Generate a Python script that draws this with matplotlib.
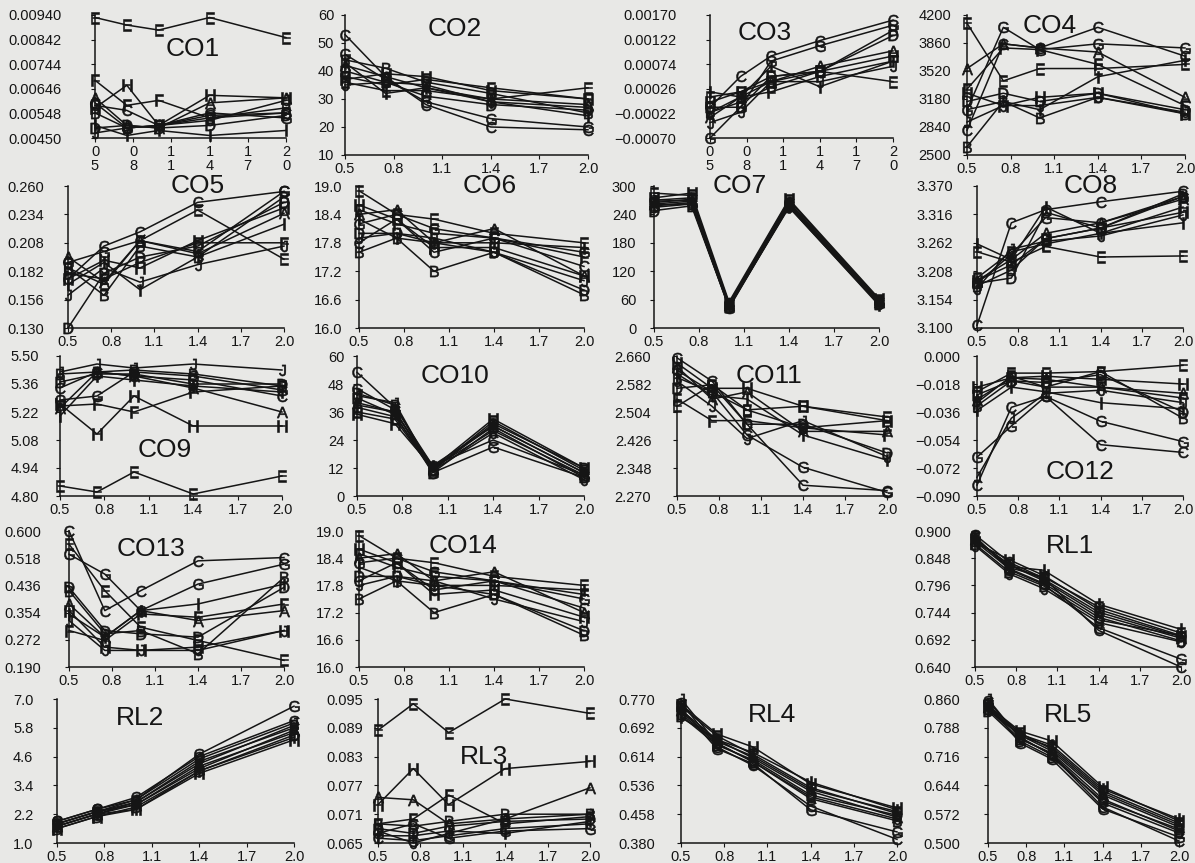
import matplotlib
matplotlib.use("Agg")
import matplotlib.pyplot as plt

plt.rcParams["font.family"] = ["Liberation Sans", "DejaVu Sans"]
plt.rcParams["mathtext.fontset"] = "custom"
plt.rcParams["mathtext.rm"] = "Liberation Sans"

# --- dati -------------------------------------------------------------------
X = [0.5, 0.75, 1.0, 1.4, 2.0]
LETTERS = list("ABCDEFGHIJ")
XT = [0.5, 0.8, 1.1, 1.4, 1.7, 2.0]
XT_LAB = ["0.5", "0.8", "1.1", "1.4", "1.7", "2.0"]
XT_LAB_SPLIT = ["0\n5", "0\n8", "1\n1", "1\n4", "1\n7", "2\n0"]

# una riga per serie, ordine A..J
CO1 = [[0.0061, 0.0050, 0.0049, 0.0059, 0.0061], [0.0055, 0.0049, 0.0050, 0.0053, 0.0057],
       [0.0058, 0.0056, 0.0050, 0.0054, 0.0055], [0.0049, 0.0050, 0.0049, 0.0050, 0.0054],
       [0.0093, 0.0090, 0.0088, 0.0093, 0.0085], [0.0068, 0.0058, 0.0060, 0.0053, 0.0055],
       [0.0059, 0.0049, 0.0050, 0.0055, 0.0053], [0.0057, 0.0066, 0.0050, 0.0062, 0.0061],
       [0.0050, 0.0046, 0.0048, 0.0046, 0.0048], [0.0047, 0.0049, 0.0050, 0.0052, 0.0060]]
CO2 = [[42, 38, 34, 30, 28], [44, 41, 36, 32, 25], [53, 38, 28, 20, 19], [40, 36, 31, 28, 26],
       [36, 33, 33, 30, 34], [38, 35, 37, 34, 30], [46, 37, 29, 23, 20], [37, 39, 38, 33, 30],
       [43, 32, 34, 29, 24], [35, 36, 35, 29, 27]]
CO3 = [[-0.0003, 0.0001, 0.0004, 0.0007, 0.0010], [-0.0002, 0.0000, 0.0003, 0.0006, 0.0014],
       [-0.0001, 0.0005, 0.0009, 0.0012, 0.0016], [-0.0001, -0.0001, 0.0005, 0.0006, 0.0013],
       [0.0001, 0.0002, 0.0005, 0.0006, 0.0004], [-0.0002, 0.0001, 0.0002, 0.0005, 0.0008],
       [-0.0007, -0.0001, 0.0008, 0.0011, 0.0015], [0.0000, 0.0002, 0.0004, 0.0006, 0.0009],
       [0.0002, 0.0001, 0.0007, 0.0003, 0.0008], [-0.0004, -0.0002, 0.0004, 0.0004, 0.0007]]
CO4 = [[3550, 3850, 3800, 3750, 3200], [2600, 3150, 2950, 3200, 3000], [2800, 3850, 3800, 4050, 3700],
       [3150, 3250, 3150, 3250, 3050], [4100, 3400, 3550, 3550, 3600], [3300, 3800, 3780, 3600, 3100],
       [3050, 4050, 3780, 3850, 3800], [3250, 3100, 3200, 3250, 3000], [3050, 3150, 3050, 3450, 3650],
       [2900, 3100, 3100, 3200, 3020]]
CO5 = [[0.195, 0.172, 0.210, 0.198, 0.235], [0.185, 0.160, 0.205, 0.195, 0.250],
       [0.175, 0.205, 0.218, 0.245, 0.255], [0.130, 0.180, 0.195, 0.205, 0.245],
       [0.185, 0.170, 0.210, 0.238, 0.193], [0.180, 0.175, 0.190, 0.208, 0.208],
       [0.190, 0.200, 0.210, 0.200, 0.255], [0.175, 0.192, 0.185, 0.210, 0.240],
       [0.170, 0.190, 0.165, 0.195, 0.225], [0.160, 0.185, 0.172, 0.188, 0.205]]
CO6 = [[18.4, 18.5, 17.8, 18.1, 17.1], [17.6, 17.9, 17.2, 17.6, 16.7], [17.8, 18.3, 17.6, 17.9, 17.3],
       [18.0, 18.0, 17.8, 17.6, 16.8], [18.9, 18.4, 18.3, 18.0, 17.8], [18.5, 18.2, 18.0, 17.9, 17.5],
       [18.2, 18.4, 18.1, 17.9, 17.6], [18.6, 18.3, 17.7, 17.7, 17.1], [18.3, 17.9, 17.8, 17.8, 17.7],
       [17.9, 18.0, 17.9, 17.6, 17.0]]
CO7 = [[262, 268, 48, 262, 55], [255, 262, 45, 258, 52], [270, 275, 52, 266, 58], [248, 258, 44, 255, 50],
       [285, 280, 50, 270, 60], [265, 272, 47, 262, 56], [258, 265, 42, 259, 53], [275, 285, 55, 272, 62],
       [260, 262, 46, 256, 48], [268, 270, 50, 264, 57]]
CO8 = [[3.190, 3.230, 3.280, 3.300, 3.345], [3.180, 3.210, 3.270, 3.290, 3.355],
       [3.105, 3.300, 3.325, 3.340, 3.360], [3.185, 3.195, 3.320, 3.290, 3.350],
       [3.245, 3.225, 3.255, 3.235, 3.237], [3.195, 3.245, 3.260, 3.280, 3.330],
       [3.185, 3.240, 3.310, 3.300, 3.350], [3.190, 3.220, 3.270, 3.290, 3.320],
       [3.260, 3.230, 3.330, 3.280, 3.300], [3.175, 3.250, 3.265, 3.275, 3.315]]
CO9 = [[5.24, 5.42, 5.40, 5.34, 5.22], [5.41, 5.42, 5.43, 5.41, 5.35], [5.34, 5.42, 5.40, 5.38, 5.30],
       [5.37, 5.41, 5.41, 5.36, 5.36], [4.85, 4.82, 4.92, 4.81, 4.90], [5.25, 5.26, 5.22, 5.32, 5.35],
       [5.28, 5.30, 5.42, 5.40, 5.33], [5.26, 5.11, 5.30, 5.15, 5.15], [5.20, 5.40, 5.38, 5.35, 5.32],
       [5.42, 5.46, 5.44, 5.46, 5.43]]
CO10 = [[40, 36, 12, 30, 10], [44, 39, 11, 31, 12], [53, 38, 13, 24, 9], [42, 35, 10, 29, 8],
        [36, 33, 11, 32, 11], [38, 34, 12, 28, 9], [46, 37, 10, 21, 8], [35, 31, 12, 33, 12],
        [39, 36, 13, 30, 10], [43, 40, 11, 27, 7]]
CO11 = [[2.630, 2.540, 2.560, 2.450, 2.450], [2.600, 2.560, 2.510, 2.460, 2.480],
        [2.655, 2.590, 2.470, 2.300, 2.285], [2.570, 2.580, 2.470, 2.470, 2.390],
        [2.520, 2.580, 2.510, 2.520, 2.490], [2.540, 2.480, 2.480, 2.460, 2.440],
        [2.620, 2.560, 2.440, 2.350, 2.280], [2.640, 2.570, 2.570, 2.520, 2.480],
        [2.610, 2.550, 2.540, 2.440, 2.370], [2.590, 2.520, 2.430, 2.480, 2.380]]
CO12 = [[-0.028, -0.014, -0.015, -0.020, -0.024], [-0.032, -0.016, -0.020, -0.010, -0.040],
        [-0.083, -0.033, -0.026, -0.057, -0.062], [-0.025, -0.016, -0.017, -0.012, -0.036],
        [-0.023, -0.011, -0.011, -0.010, -0.006], [-0.030, -0.013, -0.020, -0.020, -0.027],
        [-0.065, -0.045, -0.026, -0.042, -0.055], [-0.020, -0.014, -0.013, -0.015, -0.018],
        [-0.035, -0.020, -0.023, -0.030, -0.034], [-0.078, -0.040, -0.024, -0.022, -0.030]]
CO13 = [[0.380, 0.280, 0.360, 0.330, 0.360], [0.420, 0.290, 0.300, 0.230, 0.460],
        [0.600, 0.360, 0.420, 0.510, 0.520], [0.430, 0.300, 0.290, 0.280, 0.430],
        [0.560, 0.420, 0.310, 0.270, 0.210], [0.300, 0.270, 0.350, 0.340, 0.380],
        [0.530, 0.470, 0.360, 0.440, 0.500], [0.360, 0.250, 0.240, 0.250, 0.300],
        [0.350, 0.280, 0.360, 0.380, 0.440], [0.330, 0.240, 0.240, 0.240, 0.300]]
CO14 = [[18.4, 18.5, 17.9, 18.1, 17.2], [17.5, 17.9, 17.2, 17.6, 16.7], [17.9, 18.3, 17.7, 17.9, 17.3],
        [18.0, 18.0, 17.8, 17.6, 16.8], [18.9, 18.4, 18.3, 18.0, 17.8], [18.5, 18.2, 18.0, 17.9, 17.6],
        [18.3, 18.4, 18.1, 17.9, 17.5], [18.6, 18.3, 17.6, 17.7, 17.1], [18.2, 17.9, 17.8, 17.8, 17.7],
        [17.8, 18.0, 17.9, 17.5, 17.0]]
RL1 = [[0.885, 0.835, 0.805, 0.740, 0.695], [0.880, 0.828, 0.800, 0.735, 0.690],
       [0.893, 0.840, 0.810, 0.710, 0.640], [0.875, 0.822, 0.795, 0.730, 0.700],
       [0.887, 0.830, 0.812, 0.755, 0.705], [0.882, 0.836, 0.808, 0.745, 0.698],
       [0.890, 0.826, 0.798, 0.715, 0.655], [0.878, 0.845, 0.815, 0.750, 0.700],
       [0.884, 0.832, 0.825, 0.760, 0.712], [0.872, 0.818, 0.790, 0.725, 0.688]]
RL2 = [[1.7, 2.2, 2.6, 4.1, 5.7], [1.8, 2.3, 2.7, 4.3, 5.9], [1.9, 2.4, 2.9, 4.6, 6.1],
       [1.6, 2.1, 2.5, 4.0, 5.5], [1.7, 2.2, 2.7, 4.4, 5.8], [1.8, 2.3, 2.6, 4.2, 5.6],
       [1.9, 2.4, 2.8, 4.7, 6.7], [1.6, 2.1, 2.4, 3.9, 5.3], [1.7, 2.2, 2.4, 4.0, 5.4],
       [1.8, 2.3, 2.8, 4.5, 6.0]]
RL3 = [[0.0745, 0.0740, 0.0690, 0.0700, 0.0765], [0.0690, 0.0685, 0.0695, 0.0710, 0.0710],
       [0.0660, 0.0655, 0.0665, 0.0680, 0.0690], [0.0680, 0.0670, 0.0685, 0.0695, 0.0700],
       [0.0885, 0.0940, 0.0880, 0.0950, 0.0920], [0.0690, 0.0700, 0.0750, 0.0690, 0.0705],
       [0.0670, 0.0690, 0.0660, 0.0675, 0.0680], [0.0730, 0.0805, 0.0730, 0.0805, 0.0820],
       [0.0665, 0.0665, 0.0675, 0.0670, 0.0695], [0.0675, 0.0650, 0.0670, 0.0700, 0.0710]]
RL4 = [[0.740, 0.660, 0.610, 0.520, 0.450], [0.730, 0.650, 0.600, 0.500, 0.440],
       [0.760, 0.640, 0.590, 0.480, 0.390], [0.725, 0.645, 0.605, 0.510, 0.455],
       [0.750, 0.670, 0.620, 0.530, 0.460], [0.735, 0.655, 0.615, 0.525, 0.465],
       [0.745, 0.635, 0.595, 0.470, 0.410], [0.755, 0.675, 0.640, 0.540, 0.475],
       [0.720, 0.660, 0.625, 0.545, 0.470], [0.770, 0.650, 0.600, 0.505, 0.445]]
RL5 = [[0.840, 0.770, 0.730, 0.620, 0.540], [0.835, 0.760, 0.725, 0.610, 0.530],
       [0.855, 0.765, 0.720, 0.590, 0.505], [0.830, 0.755, 0.715, 0.605, 0.535],
       [0.845, 0.775, 0.735, 0.625, 0.545], [0.838, 0.768, 0.740, 0.630, 0.550],
       [0.850, 0.750, 0.710, 0.585, 0.515], [0.843, 0.780, 0.755, 0.640, 0.555],
       [0.832, 0.772, 0.745, 0.635, 0.560], [0.860, 0.762, 0.722, 0.600, 0.525]]

YT = {
    "CO1": [0.0045, 0.00548, 0.00646, 0.00744, 0.00842, 0.0094],
    "CO2": [10, 20, 30, 40, 50, 60],
    "CO3": [-0.0007, -0.00022, 0.00026, 0.00074, 0.00122, 0.0017],
    "CO4": [2500, 2840, 3180, 3520, 3860, 4200],
    "CO5": [0.130, 0.156, 0.182, 0.208, 0.234, 0.260],
    "CO6": [16.0, 16.6, 17.2, 17.8, 18.4, 19.0],
    "CO7": [0, 60, 120, 180, 240, 300],
    "CO8": [3.100, 3.154, 3.208, 3.262, 3.316, 3.370],
    "CO9": [4.80, 4.94, 5.08, 5.22, 5.36, 5.50],
    "CO10": [0, 12, 24, 36, 48, 60],
    "CO11": [2.270, 2.348, 2.426, 2.504, 2.582, 2.660],
    "CO12": [-0.090, -0.072, -0.054, -0.036, -0.018, 0.000],
    "CO13": [0.190, 0.272, 0.354, 0.436, 0.518, 0.600],
    "CO14": [16.0, 16.6, 17.2, 17.8, 18.4, 19.0],
    "RL1": [0.640, 0.692, 0.744, 0.796, 0.848, 0.900],
    "RL2": [1.0, 2.2, 3.4, 4.6, 5.8, 7.0],
    "RL3": [0.065, 0.071, 0.077, 0.083, 0.089, 0.095],
    "RL4": [0.380, 0.458, 0.536, 0.614, 0.692, 0.770],
    "RL5": [0.500, 0.572, 0.644, 0.716, 0.788, 0.860],
}

# --- layout (pixel) ---------------------------------------------------------
W, H = 1195, 863
# alto, basso per riga; la riga 0 ha due altezze (assi spezzati piu' corti)
ROWS = [(15, 155), (186, 328), (356, 496), (531, 667), (699, 843)]
SHORT_BOTTOM = 138
# nome, dati, formato, riga, sinistra, destra, titolo fx, fy, distanza etichette, x spezzate
PANELS = [
    ("CO1", CO1, "%.5f", 0, 95, 286, 0.51, 0.72, 33, True),
    ("CO2", CO2, "%d", 0, 345, 588, 0.45, 0.90, 10, False),
    ("CO3", CO3, "%.5f", 0, 710, 893, 0.30, 0.85, 33, True),
    ("CO4", CO4, "%d", 0, 967, 1185, 0.38, 0.92, 15, False),
    ("CO5", CO5, "%.3f", 1, 68, 284, 0.60, 1.0, 23, False),
    ("CO6", CO6, "%.1f", 1, 359, 584, 0.58, 1.0, 16, False),
    ("CO7", CO7, "%d", 1, 654, 879, 0.38, 1.0, 17, False),
    ("CO8", CO8, "%.3f", 1, 977, 1183, 0.55, 1.0, 23, False),
    ("CO9", CO9, "%.2f", 2, 60, 282, 0.47, 0.33, 20, False),
    ("CO10", CO10, "%d", 2, 357, 584, 0.43, 0.86, 12, False),
    ("CO11", CO11, "%.3f", 2, 677, 887, 0.44, 0.86, 25, False),
    ("CO12", CO12, "%.3f", 2, 977, 1183, 0.50, 0.17, 16, False),
    ("CO13", CO13, "%.3f", 3, 69, 284, 0.38, 0.87, 27, False),
    ("CO14", CO14, "%.1f", 3, 359, 584, 0.46, 0.89, 14, False),
    ("RL1", RL1, "%.3f", 3, 975, 1181, 0.46, 0.89, 23, False),
    ("RL2", RL2, "%.1f", 4, 57, 294, 0.35, 0.87, 23, False),
    ("RL3", RL3, "%.3f", 4, 378, 590, 0.50, 0.60, 14, False),
    ("RL4", RL4, "%.3f", 4, 681, 897, 0.42, 0.89, 25, False),
    ("RL5", RL5, "%.3f", 4, 988, 1179, 0.42, 0.89, 27, False),
]

INK = "#151515"
fig = plt.figure(figsize=(W / 100, H / 100), dpi=100, facecolor="#e8e8e6")

for name, series, fmt, row, left, right, tfx, tfy, pad, split in PANELS:
    top, bot = ROWS[row]
    if split:
        bot = SHORT_BOTTOM
    ax = fig.add_axes([left / W, 1 - bot / H, (right - left) / W, (bot - top) / H])
    ax.set_facecolor("none")
    yt = YT[name]
    for letter, s in zip(LETTERS, series):
        ax.plot(X, s, color=INK, lw=1.1, marker=r"$\mathrm{%s}$" % letter, ms=8,
                mfc=INK, mec=INK, mew=0.4, clip_on=False)
    ax.set_xlim(0.5, 2.0)
    ax.set_ylim(yt[0], yt[-1])
    ax.set_yticks(yt, [(fmt % v).replace("-", "\u2212") for v in yt])
    ax.set_xticks(XT, XT_LAB_SPLIT if split else XT_LAB)
    for sp in ("top", "right"):
        ax.spines[sp].set_visible(False)
    for sp in ("left", "bottom"):
        ax.spines[sp].set_color(INK)
        ax.spines[sp].set_linewidth(1.1)
    ax.tick_params(axis="both", direction="out", length=3, width=0.8, colors=INK, labelsize=10.5)
    ax.tick_params(axis="y", pad=max(pad * 0.72 - 2.5, 1))
    ax.tick_params(axis="x", pad=2)
    if split:
        for lab in ax.get_xticklabels():
            lab.set_linespacing(1.0)
    ax.text(tfx, tfy, name, transform=ax.transAxes, ha="center", va="center",
            fontsize=19, color=INK)

fig.savefig("out.png", dpi=100, facecolor=fig.get_facecolor())
